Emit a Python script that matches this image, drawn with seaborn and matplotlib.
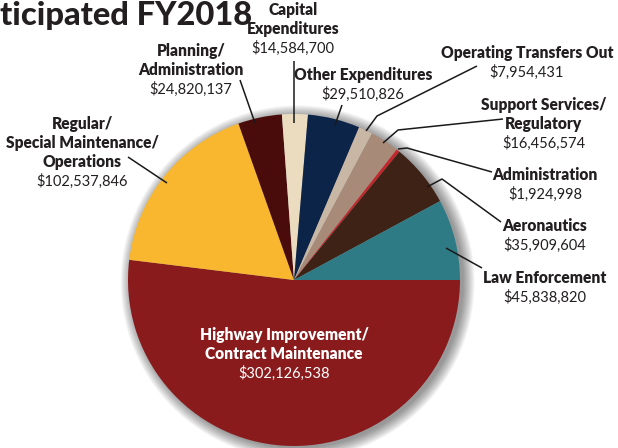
import matplotlib
matplotlib.use("Agg")
import matplotlib.pyplot as plt
from matplotlib.patches import Circle
import seaborn as sns

# Budget categories (clockwise from 3 o'clock)
categories = ["Highway Improvement/\nContract Maintenance",
              "Regular/\nSpecial Maintenance/\nOperations",
              "Planning/\nAdministration",
              "Capital\nExpenditures",
              "Other Expenditures",
              "Operating Transfers Out",
              "Support Services/\nRegulatory",
              "Administration",
              "Aeronautics",
              "Law Enforcement"]
amounts = [302126538, 102537846, 24820137, 14584700, 29510826,
           7954431, 16456574, 1924998, 35909604, 45838820]
colors = ["#8a1b1d", "#f9b62f", "#4a0b0b", "#ecdcbf", "#0c2448",
          "#c9b7a6", "#a88a78", "#c4262b", "#3e2216", "#2e7b85"]

sns.set_theme(style="white")
plt.rcParams["font.family"] = ["Lato", "DejaVu Sans"]

W, H = 618, 448
CX, CY, R = 294, 280, 166


def px(x, y):
    return (x - CX) / R, (CY - y) / R


fig = plt.figure(figsize=(W / 100, H / 100), dpi=100)
ax = fig.add_axes([0, 0, 1, 1])

# soft drop shadow behind the pie
for k in range(12):
    ax.add_patch(Circle((0.022, -0.014), 1.0 + 0.006 * k, color="black",
                        alpha=0.04, lw=0, zorder=0))

ax.pie(amounts, colors=colors, startangle=0, counterclock=False,
       wedgeprops=dict(linewidth=0, zorder=1), radius=1.0)

ax.set_xlim(px(0, 0)[0], px(W, 0)[0])
ax.set_ylim(px(0, H)[1], px(0, 0)[1])
ax.axis("off")

# label layout: x center, y of first line, text colour
layout = [(284, 335, "white"), (82, 124, "#231f20"), (191, 51, "#231f20"),
          (293, 10, "#231f20"), (363, 75, "#231f20"), (527, 53, "#231f20"),
          (544, 105, "#231f20"), (545, 175, "#231f20"), (545, 226, "#231f20"),
          (545, 278, "#231f20")]
step = 19.2
for name, amt, (lx, ly, col) in zip(categories, amounts, layout):
    lines = name.split("\n")
    for i, ln in enumerate(lines):
        ax.text(*px(lx, ly + i * step), ln, ha="center", va="center",
                fontsize=11.2, fontweight="heavy", color=col, zorder=5)
    ax.text(*px(lx, ly + len(lines) * step), f"${amt:,}", ha="center",
            va="center", fontsize=10.5, color=col, zorder=5)

# leader lines
leaders = [
    [(128, 157), (167, 183)],
    [(240, 80), (255, 123)],
    [(294, 61), (294, 123)],
    [(342, 105), (335, 125)],
    [(477, 66), (377, 116), (366, 131)],
    [(503, 119), (398, 130), (383, 143)],
    [(492, 172), (407, 148), (398, 149)],
    [(501, 222), (442, 179), (427, 187)],
    [(482, 268), (446, 248)],
]
for pts in leaders:
    xs, ys = zip(*[px(a, b) for a, b in pts])
    ax.plot(xs, ys, color="#1a1a1a", lw=1.1, zorder=4, solid_capstyle="butt")

ax.text(*px(0, 16), "ticipated FY2018", ha="left", va="center",
        fontsize=23.5, fontweight="black", color="#231f20")

fig.savefig("out.png", dpi=100)
